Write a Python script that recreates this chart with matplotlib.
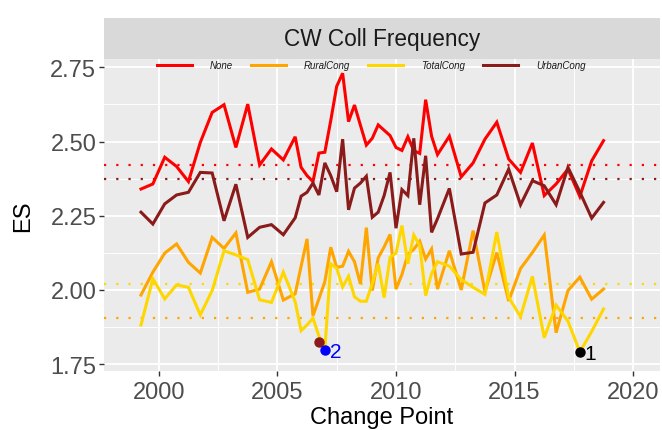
import matplotlib
matplotlib.use('Agg')
import matplotlib.pyplot as plt
from matplotlib.ticker import MultipleLocator, FormatStrFormatter
from matplotlib.lines import Line2D

plt.rcParams['font.family'] = ['Liberation Sans', 'DejaVu Sans']

# ---------------- data ----------------
change_point = [1999.25, 1999.75, 2000.25, 2000.75, 2001.25, 2001.75, 2002.25, 2002.75,
                2003.25, 2003.75, 2004.25, 2004.75, 2005.25, 2005.75,
                2006.0, 2006.25, 2006.5, 2006.75, 2007.0, 2007.25, 2007.5, 2007.75,
                2008.0, 2008.25, 2008.5, 2008.75, 2009.0, 2009.25, 2009.5, 2009.75,
                2010.0, 2010.25, 2010.5, 2010.75, 2011.0, 2011.25, 2011.5, 2011.75,
                2012.25, 2012.75, 2013.25, 2013.75, 2014.25, 2014.75, 2015.25, 2015.75,
                2016.25, 2016.75, 2017.25, 2017.75, 2018.25, 2018.75]

es_none = [2.340, 2.357, 2.447, 2.416, 2.365, 2.497, 2.598, 2.624, 2.480, 2.626, 2.421, 2.475, 2.438, 2.516,
           2.413, 2.385, 2.365, 2.461, 2.464, 2.571, 2.686, 2.730, 2.567, 2.623, 2.555, 2.488, 2.511, 2.556,
           2.538, 2.520, 2.480, 2.470, 2.516, 2.469, 2.460, 2.641, 2.518, 2.456,
           2.518, 2.381, 2.428, 2.508, 2.565, 2.441, 2.396, 2.495, 2.318, 2.357, 2.407, 2.315, 2.435, 2.503]

es_rural = [1.983, 2.060, 2.124, 2.155, 2.093, 2.057, 2.177, 2.140, 2.192, 1.992, 2.003, 2.095, 1.966, 1.987,
            2.080, 2.172, 1.913, 1.970, 2.028, 2.144, 2.076, 2.080, 2.130, 2.095, 2.020, 2.210, 1.998, 2.108,
            2.145, 2.187, 2.003, 2.052, 2.120, 2.137, 2.164, 2.104, 2.138, 2.003,
            2.132, 2.000, 2.200, 1.994, 2.126, 1.963, 2.072, 2.126, 2.185, 1.856, 1.998, 2.043, 1.969, 2.003]

es_total = [1.882, 2.038, 1.970, 2.017, 2.009, 1.916, 1.998, 2.132, 2.118, 2.102, 1.967, 1.958, 2.060, 1.960,
            1.863, 1.882, 1.905, 1.845, 1.799, 2.088, 2.073, 2.010, 2.046, 1.977, 1.962, 1.962, 2.022, 2.088,
            1.974, 2.110, 2.124, 2.217, 2.088, 2.185, 2.150, 1.981, 2.055, 2.095,
            2.080, 2.035, 2.009, 1.985, 2.195, 1.975, 1.910, 2.046, 1.839, 1.949, 1.895, 1.791, 1.860, 1.936]

es_urban = [2.262, 2.222, 2.290, 2.320, 2.329, 2.396, 2.394, 2.233, 2.356, 2.177, 2.211, 2.220, 2.186, 2.243,
            2.316, 2.329, 2.360, 2.320, 2.428, 2.385, 2.331, 2.508, 2.270, 2.343, 2.360, 2.383, 2.245, 2.262,
            2.318, 2.396, 2.208, 2.338, 2.318, 2.511, 2.287, 2.452, 2.194, 2.240,
            2.342, 2.121, 2.127, 2.293, 2.320, 2.407, 2.287, 2.368, 2.351, 2.287, 2.413, 2.330, 2.242, 2.295]

series_names = ['None', 'RuralCong', 'TotalCong', 'UrbanCong']
series_values = [es_none, es_rural, es_total, es_urban]
series_colors = ['#FF0000', '#FFA500', '#FFD700', '#8B1A1A']
ref_levels = [2.421, 1.906, 2.020, 2.374]

point_x = [2006.75, 2007.0, 2017.75]
point_y = [1.824, 1.799, 1.791]
point_colors = ['#8B1A1A', '#0000FF', '#000000']
point_labels = ['', '2', '1']

x_ticks = [2000, 2005, 2010, 2015, 2020]
y_ticks = [1.75, 2.00, 2.25, 2.50, 2.75]

# ---------------- figure ----------------
W, H = 662, 431
fig = plt.figure(figsize=(W / 100, H / 100), dpi=100)
pl, pr, pt, pb = 104, 660, 60, 372
ax = fig.add_axes([pl / W, 1 - pb / H, (pr - pl) / W, (pb - pt) / H])
ax.set_facecolor('#EBEBEB')
for s in ax.spines.values():
    s.set_visible(False)
ax.set_xlim(1997.69, 2021.13)
ax.set_ylim(1.727, 2.778)
ax.set_xticks(x_ticks)
ax.set_yticks(y_ticks)
ax.xaxis.set_minor_locator(MultipleLocator(2.5))
ax.yaxis.set_minor_locator(MultipleLocator(0.125))
ax.yaxis.set_major_formatter(FormatStrFormatter('%.2f'))
ax.grid(which='major', color='white', lw=1.3)
ax.grid(which='minor', color='white', lw=0.65)
ax.set_axisbelow(True)
ax.tick_params(which='minor', length=0)
ax.tick_params(which='major', length=3.5, width=1.0, color='#333333',
               labelsize=17, labelcolor='#4D4D4D')
ax.tick_params(axis='x', which='major', pad=4)
ax.tick_params(axis='y', which='major', pad=2)

for lvl, c in zip(ref_levels, series_colors):
    ax.axhline(lvl, color=c, lw=1.6, linestyle=(0, (1, 4.5)), zorder=2)

handles = []
for name, vals, c in zip(series_names, series_values, series_colors):
    ax.plot(change_point, vals, color=c, lw=2.2, zorder=3, solid_joinstyle='miter')
    handles.append(Line2D([0], [0], color=c, lw=2.2))

for px, py, c, lab in zip(point_x, point_y, point_colors, point_labels):
    ax.plot(px, py, 'o', color=c, ms=6.5, zorder=4)
    if lab:
        ax.annotate(lab, (px, py), xytext=(3.5, -1), textcoords='offset points',
                    ha='left', va='center', color=c, fontsize=15, zorder=5)

leg = ax.legend(handles, series_names, loc='center', bbox_to_anchor=(0.481, 0.981),
                ncol=4, frameon=False, prop=dict(size=7, style='italic'),
                handlelength=3.6, handletextpad=1.85, columnspacing=1.85, borderpad=0)
for t in leg.get_texts():
    t.set_color('#1A1A1A')

ax.set_ylabel('ES', fontsize=17, color='black', labelpad=12)
ax.set_xlabel('Change Point', fontsize=17, color='black', labelpad=2)

# facet strip
sax = fig.add_axes([pl / W, 1 - pt / H, (pr - pl) / W, 41 / H])
sax.set_facecolor('#D9D9D9')
sax.set_xticks([])
sax.set_yticks([])
for s in sax.spines.values():
    s.set_visible(False)
sax.text(0.5, 0.5, 'CW Coll Frequency', ha='center', va='center',
         fontsize=16.3, color='#1A1A1A', transform=sax.transAxes)

fig.savefig('out.png', dpi=100)
